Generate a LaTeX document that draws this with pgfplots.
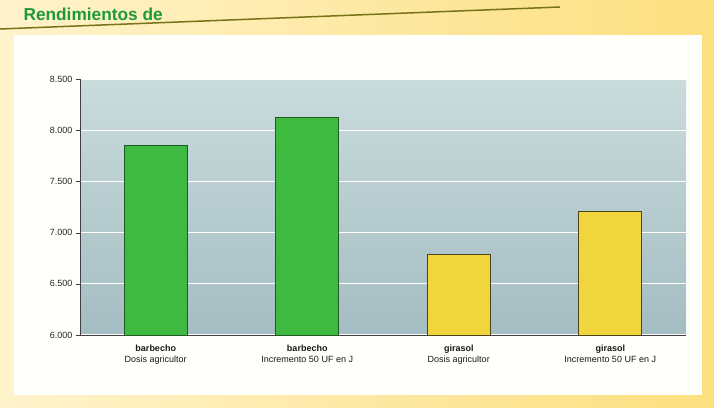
\documentclass[border=0pt]{standalone}
\usepackage{pgfplots}
\pgfplotsset{compat=1.18}
\usepackage{fontspec}
\setmainfont{Liberation Sans}
\definecolor{paperY}{HTML}{FCDF7E}
\definecolor{paperY2}{HTML}{FFF3CC}
\definecolor{barG}{HTML}{3DBA3F}
\definecolor{barGd}{HTML}{1F5A22}
\definecolor{barY}{HTML}{F0D53C}
\definecolor{barYd}{HTML}{4A4418}
\definecolor{bgTop}{HTML}{CADBDC}
\definecolor{bgBot}{HTML}{A4BDC2}
\definecolor{titleG}{HTML}{1E9A3A}
\begin{document}
\begin{tikzpicture}
\begin{scope}
\clip (0pt,0pt) rectangle (714pt,407pt);
\shade[left color=paperY2, right color=paperY] (0pt,0pt) rectangle (714pt,407pt);
\fill[white!99!yellow] (14pt,12pt) rectangle (702pt,372pt);
\draw[olive!80!black, line width=1.5pt] (0pt,378pt) -- (560pt,400pt);
\node[anchor=base west, text=titleG, font=\bfseries\LARGE] at (20pt,386pt) {Rendimientos de};
\end{scope}
\begin{axis}[
  at={(80pt,72pt)}, anchor=south west,
  scale only axis, width=606pt, height=256pt,
  xmin=-0.5, xmax=3.5, ymin=6000, ymax=8500,
  ybar, bar width=63pt,
  axis background/.style={top color=bgTop, bottom color=bgBot},
  axis x line*=bottom, axis y line*=left,
  axis line style={draw=black!75, line width=0.8pt},
  xtick={0,1,2,3},
  xticklabels={{\textbf{barbecho}\\Dosis agricultor},{\textbf{barbecho}\\Incremento 50 UF en J},{\textbf{girasol}\\Dosis agricultor},{\textbf{girasol}\\Incremento 50 UF en J}},
  x tick label style={align=center, font=\small, text=black!90, yshift=-2pt},
  major x tick style={draw=none},
  extra x ticks={-0.5,0.5,1.5,2.5},
  extra x tick labels={},
  extra x tick style={tick style={draw=black!75}, major tick length=4pt, tick align=outside, grid=none},
  ytick={6000,6500,7000,7500,8000,8500},
  yticklabels={6.000,6.500,7.000,7.500,8.000,8.500},
  y tick label style={font=\small, text=black!85},
  ytick style={draw=black!75}, tick align=outside, major tick length=4pt,
  ymajorgrids, grid style={white, line width=1.2pt},
  clip=false,
]
\addplot[fill=barG, draw=barGd, line width=0.8pt, bar shift=0pt] coordinates {(0,7850) (1,8125)};
\addplot[fill=barY, draw=barYd, line width=0.8pt, bar shift=0pt] coordinates {(2,6790) (3,7210)};
\end{axis}
\end{tikzpicture}
\end{document}
